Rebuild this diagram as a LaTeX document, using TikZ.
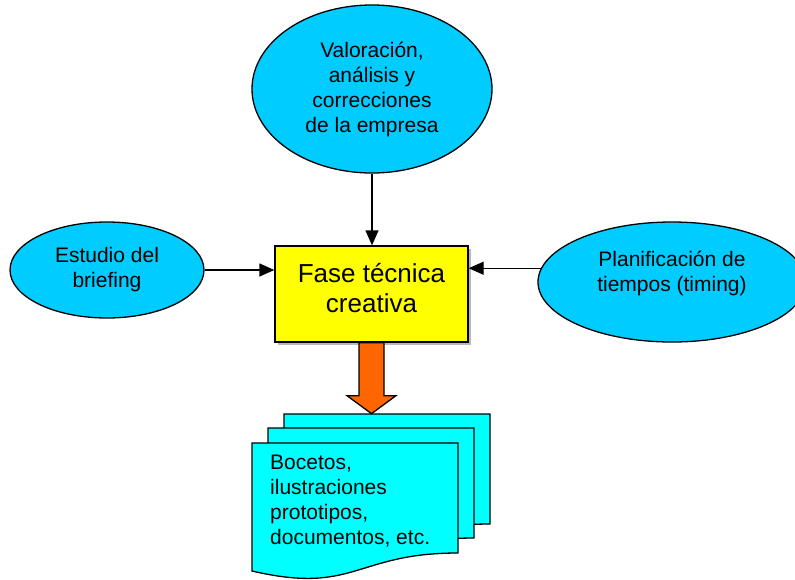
\documentclass[tikz,border=0pt]{standalone}
\usepackage{fontspec}
\setmainfont{Liberation Sans}
\usetikzlibrary{shapes.geometric,arrows.meta,calc}
\definecolor{bubblefill}{HTML}{00CCFF}
\definecolor{sheetfill}{HTML}{00FFFF}
\definecolor{phasefill}{HTML}{FFFF00}
\definecolor{flowfill}{HTML}{FF6600}
\tikzset{
  bubble/.style={ellipse, draw, line width=1.3pt, fill=bubblefill, inner sep=0pt,
    align=center, font=\fontsize{21}{25}\selectfont},
  bodytext/.style={inner sep=0pt, font=\fontsize{21}{25}\selectfont},
  link/.style={line width=1.3pt, -{Triangle[length=15pt,width=13pt]}},
  sheetshape/.style={draw, line width=1.3pt, fill=sheetfill},
}
% one page of the document stack, top-left corner at (#1,#2)
\newcommand\docsheet[2]{%
  \path[sheetshape] (#1,#2) -- ({#1+206},#2) -- ({#1+206},{#2+110})
    .. controls ({#1+103},{#2+110}) and ({#1+103},{#2+152}) .. (#1,{#2+128}) -- cycle;}
\begin{document}
\begin{tikzpicture}[x=1pt,y=-1pt]
\useasboundingbox (0,0) rectangle (795,579);

% surrounding inputs
\node[bubble, minimum width=240, minimum height=168] (eval) at (372,89)
  {Valoración,\\análisis y\\correcciones\\de la empresa};
\node[bubble, minimum width=194, minimum height=96] (brief) at (107,270)
  {Estudio del\\briefing};
\node[bubble, minimum width=268, minimum height=120] (plan) at (672,282) {};
\node[bodytext, align=center] (plantext) at (672,273)
  {Planificación de\\tiempos (timing)};

% central phase
\fill[gray!55] (277.5,248.5) rectangle (470.5,344.5);
\node[draw, line width=1.3pt, fill=phasefill, minimum width=193, minimum height=96,
  inner sep=0pt] (phase) at (371.5,294) {};
\node[inner sep=0pt, align=center, font=\fontsize{26}{30}\selectfont] (phasetext)
  at (371.5,288) {Fase técnica\\creativa};

% connectors into the phase
\draw[link] (eval.south) -- (eval.south |- phase.north);
\draw[link] (brief.east) -- (brief.east -| phase.west);
\draw[link] (plan.174.8) -- (plan.174.8 -| phase.east);

% stack of output documents
\docsheet{284}{414}
\docsheet{268}{428}
\docsheet{252}{443}
\node[bodytext, align=left, anchor=west] (doctext) at (270,501)
  {Bocetos,\\ilustraciones\\prototipos,\\documentos, etc.};

% block arrow from the phase to the documents
\path[draw, line width=1.3pt, fill=flowfill]
  ($(phase.south)+(-12.5,0)$) -- ++(0,53) -- ++(-12,0)
  -- ($(phase.south)+(0,71)$) -- ($(phase.south)+(24.5,53)$) -- ++(-12,0)
  -- ($(phase.south)+(12.5,0)$) -- cycle;
\end{tikzpicture}
\end{document}
